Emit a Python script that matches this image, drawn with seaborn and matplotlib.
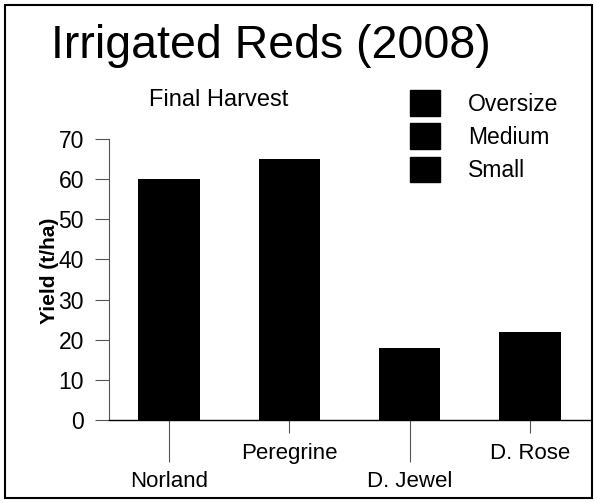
import matplotlib
matplotlib.use("Agg")
import matplotlib.pyplot as plt
from matplotlib.patches import Patch, Rectangle
import pandas as pd
import seaborn as sns

sns.set_style("white")
plt.rcParams['font.family'] = ['Liberation Sans', 'DejaVu Sans']
plt.rcParams['text.color'] = 'black'
plt.rcParams['axes.labelcolor'] = 'black'
plt.rcParams['xtick.labelcolor'] = 'black'
plt.rcParams['ytick.labelcolor'] = 'black'

# Data (segments are all drawn black in the original, totals)
varieties = ['Norland', 'Peregrine', 'D. Jewel', 'D. Rose']
oversize = [22, 25, 4, 6]
medium = [30, 32, 10, 12]
small = [8, 8, 4, 4]
size_classes = ['Oversize', 'Medium', 'Small']

df = pd.DataFrame({'Variety': varieties, 'Oversize': oversize,
                   'Medium': medium, 'Small': small})
df['Small_top'] = df['Small']
df['Medium_top'] = df['Small'] + df['Medium']
df['Oversize_top'] = df['Medium_top'] + df['Oversize']

fig = plt.figure(figsize=(5.97, 5.03), dpi=100)
ax = fig.add_axes([109 / 597, 1 - 420 / 503, 481 / 597, 281 / 503])

# stacked bars: draw cumulative totals from the top down
for col in ['Oversize_top', 'Medium_top', 'Small_top']:
    sns.barplot(data=df, x='Variety', y=col, color='black', width=0.51,
                saturation=1, linewidth=0, ax=ax)

ax.set_xlim(-0.5, 3.5)
ax.set_ylim(0, 70)
ax.set_yticks(range(0, 71, 10))
ax.tick_params(axis='y', direction='out', length=10, width=0.8, color='#555555',
               pad=8, labelsize=16.5, left=True)
ax.set_ylabel('Yield (t/ha)', fontsize=15, fontweight='bold')
ax.yaxis.set_label_coords(-0.104, 0.53)
ax.set_xlabel('')

# staggered category labels
ax.set_xticks([0, 2])
ax.set_xticklabels([varieties[0], varieties[2]])
ax.set_xticks([1, 3], minor=True)
ax.set_xticklabels([varieties[1], varieties[3]], minor=True)
ax.tick_params(axis='x', which='major', direction='out', length=30, width=0.8,
               color='#555555', pad=7, labelsize=16, bottom=True)
ax.tick_params(axis='x', which='minor', direction='out', length=9.5, width=0.8,
               color='#555555', pad=7, labelsize=16, bottom=True)

for s in ['top', 'right']:
    ax.spines[s].set_visible(False)
ax.spines['left'].set_color('#555555')
ax.spines['left'].set_linewidth(0.8)
ax.spines['bottom'].set_color('black')
ax.spines['bottom'].set_linewidth(1.0)

fig.text(271 / 597, 1 - 46 / 503, 'Irrigated Reds (2008)', fontsize=33.5,
         ha='center', va='center')
fig.text(219 / 597, 1 - 100 / 503, 'Final Harvest', fontsize=17,
         ha='center', va='center')

handles = [Patch(facecolor='black', edgecolor='black') for _ in size_classes]
fig.legend(handles, size_classes, loc='upper left',
           bbox_to_anchor=(410 / 597, 1 - 90 / 503), frameon=False,
           fontsize=16.5, handlelength=1.3, handleheight=1.35,
           handletextpad=1.22, labelspacing=0.33, borderpad=0, borderaxespad=0)

# frame around the whole figure
fig.patches.append(Rectangle((5 / 597, 5 / 503), 587 / 597, 493 / 503,
                             transform=fig.transFigure, fill=False,
                             edgecolor='black', linewidth=1.5))

fig.savefig('out.png', dpi=100)
